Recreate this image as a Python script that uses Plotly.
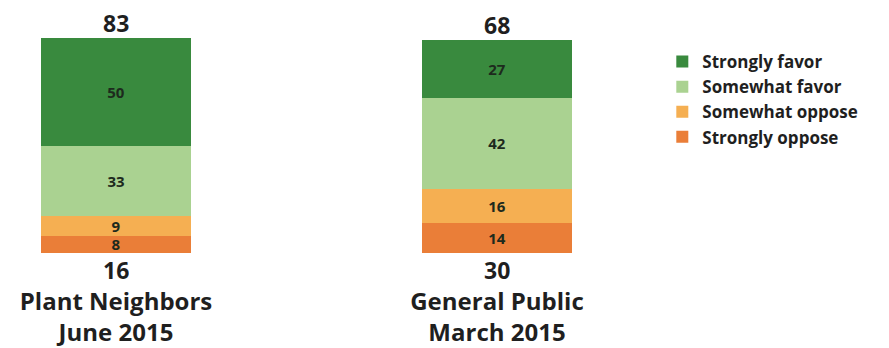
import plotly.graph_objects as go

# Survey groups shown as the two stacked bars
groups = ["Plant Neighbors<br>June 2015", "General Public<br>March 2015"]

# Response shares (%), listed bottom-to-top as stacked
responses = ["Strongly oppose", "Somewhat oppose", "Somewhat favor", "Strongly favor"]
strongly_oppose = [8, 14]
somewhat_oppose = [9, 16]
somewhat_favor = [33, 42]
strongly_favor = [50, 27]

# Net totals printed above (favor) and below (oppose) each bar
net_favor = [83, 68]
net_oppose = [16, 30]

colors = {
    "Strongly favor": "#398A3E",
    "Somewhat favor": "#AAD291",
    "Somewhat oppose": "#F5AF52",
    "Strongly oppose": "#EA7E38",
}

FONT = "Open Sans"
TEXT_DARK = "#1f1f1f"
LABEL_DARK = "#1d2a1d"

series = {
    "Strongly oppose": strongly_oppose,
    "Somewhat oppose": somewhat_oppose,
    "Somewhat favor": somewhat_favor,
    "Strongly favor": strongly_favor,
}

fig = go.Figure()
for name in responses:
    fig.add_trace(go.Bar(
        name=name,
        x=groups,
        y=series[name],
        width=0.396,
        marker=dict(color=colors[name], line=dict(width=0)),
        texttemplate="%{y}",
        textposition="inside",
        insidetextanchor="middle",
        textangle=0,
        constraintext="none",
        textfont=dict(family=FONT, size=15, color=LABEL_DARK, weight="bold"),
        hoverinfo="skip",
    ))

# Top of each bar = sum of all stacked segments
bar_tops = [sum(series[r][i] for r in responses) for i in range(len(groups))]

net_font = dict(family=FONT, size=23, color=TEXT_DARK, weight="bold")
annotations = []
for g, top, fav, opp in zip(groups, bar_tops, net_favor, net_oppose):
    annotations.append(dict(
        x=g, y=top, xref="x", yref="y", text=str(fav), showarrow=False,
        yanchor="bottom", yshift=0, height=28, borderpad=0,
        font=net_font,
    ))
    annotations.append(dict(
        x=g, y=0, xref="x", yref="y", text=str(opp), showarrow=False,
        yanchor="top", yshift=-3, height=26, borderpad=0,
        font=net_font,
    ))

fig.update_layout(
    width=889, height=348,
    margin=dict(l=0, r=0, t=38, b=92),
    barmode="stack",
    paper_bgcolor="white",
    plot_bgcolor="white",
    showlegend=True,
    legend=dict(
        x=0.745, y=0.972, xanchor="left", yanchor="top",
        traceorder="reversed",
        font=dict(family=FONT, size=17, color=TEXT_DARK, weight="bold"),
        bgcolor="rgba(0,0,0,0)",
        itemwidth=30,
        tracegroupgap=0,
    ),
    xaxis=dict(
        type="category",
        range=[-0.3045, 2.029],
        showgrid=False, zeroline=False, showline=False, ticks="",
        tickfont=dict(family=FONT, size=24, color=TEXT_DARK, weight="bold"),
        ticklabelstandoff=32,
    ),
    yaxis=dict(
        range=[0, 100],
        visible=False,
    ),
    annotations=annotations,
)

fig.write_html("out.html")
